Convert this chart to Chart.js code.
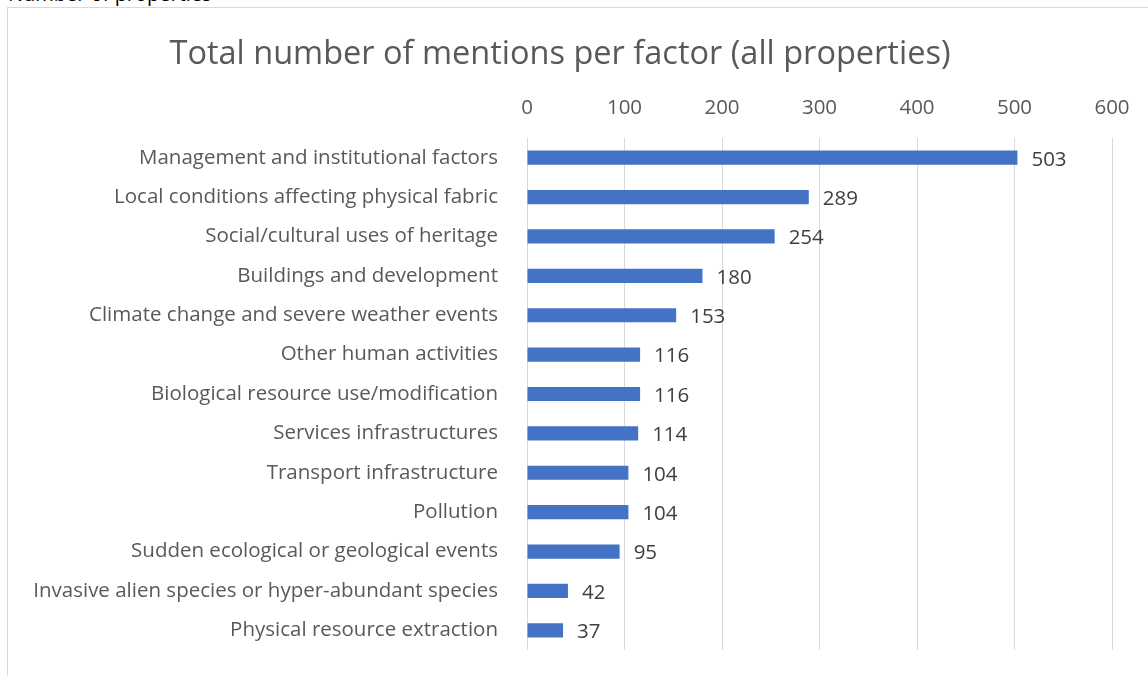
<!DOCTYPE html>
<html lang="en">
<head>
    <meta charset="UTF-8">
    <title>Total number of mentions per factor</title>
    <script src="https://cdn.jsdelivr.net/npm/chart.js"></script>
    <style>
        html, body { margin: 0; padding: 0; background: #fff; overflow: hidden; width: 1148px; height: 676px; }
        .caption { position: absolute; left: 8px; top: -20px; font: 20px "Open Sans", sans-serif; color: #000; }
        .frame { position: absolute; left: 7px; top: 7px; width: 1152px; height: 680px; border: 1px solid #d9d9d9; }
    </style>
</head>
<body>
    <div class="caption">Number of properties</div>
    <div class="frame">
        <canvas id="factorsChart"></canvas>
    </div>
    <script>
        const factors = [
            'Management and institutional factors',
            'Local conditions affecting physical fabric',
            'Social/cultural uses of heritage',
            'Buildings and development',
            'Climate change and severe weather events',
            'Other human activities',
            'Biological resource use/modification',
            'Services infrastructures',
            'Transport infrastructure',
            'Pollution',
            'Sudden ecological or geological events',
            'Invasive alien species or hyper-abundant species',
            'Physical resource extraction'
        ];
        const mentions = [503, 289, 254, 180, 153, 116, 116, 114, 104, 104, 95, 42, 37];
        const xTicks = [0, 100, 200, 300, 400, 500, 600];

        const FONT = '"Open Sans", sans-serif';
        const GREY = '#595959';

        // value labels at the end of each bar
        const barValues = {
            id: 'barValues',
            afterDatasetsDraw(chart) {
                const ctx = chart.ctx;
                const meta = chart.getDatasetMeta(0);
                ctx.save();
                ctx.font = '20.5px ' + FONT;
                ctx.fillStyle = '#404040';
                ctx.textAlign = 'left';
                ctx.textBaseline = 'middle';
                meta.data.forEach((bar, i) => {
                    ctx.fillText(mentions[i], bar.x + 14, bar.y + 2);
                });
                ctx.restore();
            }
        };

        new Chart(document.getElementById('factorsChart'), {
            type: 'bar',
            data: {
                labels: factors,
                datasets: [{
                    data: mentions,
                    backgroundColor: '#4472C4',
                    borderWidth: 0,
                    categoryPercentage: 1,
                    barPercentage: 0.36
                }]
            },
            options: {
                indexAxis: 'y',
                responsive: true,
                maintainAspectRatio: false,
                animation: false,
                layout: { padding: { left: 0, right: 48, top: 0, bottom: 38 } },
                plugins: {
                    legend: { display: false },
                    tooltip: { enabled: false },
                    title: {
                        display: true,
                        text: 'Total number of mentions per factor (all properties)',
                        color: GREY,
                        font: { family: FONT, size: 32.5, weight: 'normal' },
                        padding: { top: 27, bottom: 20 }
                    }
                },
                scales: {
                    x: {
                        position: 'top',
                        min: 0,
                        max: 600,
                        afterBuildTicks(axis) {
                            axis.ticks = xTicks.map(v => ({ value: v }));
                        },
                        afterFit(axis) { axis.height = 44; },
                        border: { display: false },
                        grid: { color: '#d9d9d9', drawTicks: false },
                        ticks: {
                            color: GREY,
                            padding: 18,
                            font: { family: FONT, size: 20.5 }
                        }
                    },
                    y: {
                        afterFit(axis) {
                            axis.width = 519;
                            axis.paddingTop = 0;
                            axis.paddingBottom = 0;
                        },
                        border: { display: false },
                        grid: { display: false, drawTicks: false },
                        ticks: {
                            color: GREY,
                            padding: 29,
                            font: { family: FONT, size: 20.5 }
                        }
                    }
                }
            },
            plugins: [barValues]
        });
    </script>
</body>
</html>
